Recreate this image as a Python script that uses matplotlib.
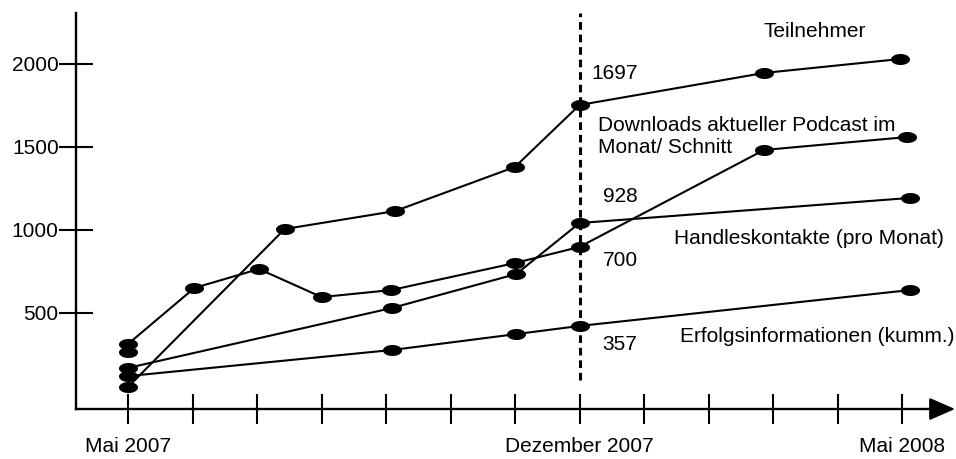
import numpy as np
import matplotlib
matplotlib.use("Agg")
import matplotlib.pyplot as plt

plt.rcParams['font.family'] = ['Liberation Sans', 'DejaVu Sans']

# === DATA (x = months after Mai 2007) ===
MONTH_TICKS = list(range(13))
MONTH_LABELS = ["Mai 2007", "", "", "", "", "", "", "Dezember 2007", "", "", "", "", "Mai 2008"]
Y_TICKS = [500, 1000, 1500, 2000]

TEILNEHMER_X = [0, 2.43, 4.14, 6.0, 7.0, 9.86, 11.97]
TEILNEHMER_Y = [54, 1006, 1114, 1380, 1753, 1946, 2030]

DOWNLOADS_X = [0, 1.03, 2.03, 3.0, 4.08, 6.0, 7.0, 9.86, 12.08]
DOWNLOADS_Y = [313, 651, 765, 596, 638, 801, 898, 1482, 1560]

HANDEL_X = [0, 4.09, 6.02, 7.0, 12.12]
HANDEL_Y = [169, 530, 735, 1042, 1193]

ERFOLG_X = [0, 4.09, 6.02, 7.0, 12.12]
ERFOLG_Y = [120, 277, 373, 422, 638]

EXTRA_X = [0]
EXTRA_Y = [265]

# === LAYOUT (pixel geometry of the reference) ===
W, H, DPI = 956, 459, 100
PX0, PX_MONTH = 128, 64.5       # pixel of month 0, pixels per month
PY0, PY_UNIT = 396, 83 / 500    # pixel of value 0, pixels per unit


def px2x(px):
    return (px - PX0) / PX_MONTH


def py2y(py):
    return (PY0 - py) / PY_UNIT


FS = 15
LW = 1.5

fig = plt.figure(figsize=(W / DPI, H / DPI), dpi=DPI)
ax = fig.add_axes([0, 0, 1, 1])
ax.set_xlim(px2x(0), px2x(W))
ax.set_ylim(py2y(H), py2y(0))
ax.patch.set_visible(False)

# ellipse marker
t = np.linspace(0, 2 * np.pi, 60)
ellipse = np.column_stack([np.cos(t), 0.58 * np.sin(t)])
mk = dict(marker=ellipse, markersize=13.7, color="black", lw=LW,
          markeredgewidth=0, solid_capstyle="round", zorder=3)

ax.plot(TEILNEHMER_X, TEILNEHMER_Y, **mk)
ax.plot(DOWNLOADS_X, DOWNLOADS_Y, **mk)
ax.plot(HANDEL_X, HANDEL_Y, **mk)
ax.plot(ERFOLG_X, ERFOLG_Y, **mk)
ax.plot(EXTRA_X, EXTRA_Y, **mk)

# dashed marker line at Dezember 2007
dez = MONTH_LABELS.index("Dezember 2007")
ax.plot([dez, dez], [py2y(380), py2y(13)], color="black", lw=2.2,
        ls=(0, (2.5, 1.6)), zorder=2)

# === axes ===
axis_x = px2x(76)
axis_y = py2y(409)
for side in ["top", "right"]:
    ax.spines[side].set_visible(False)
ax.spines["left"].set_position(("data", axis_x))
ax.spines["bottom"].set_position(("data", axis_y))
ax.spines["left"].set_bounds(axis_y, py2y(13))
ax.spines["bottom"].set_bounds(axis_x, px2x(935))
ax.spines["left"].set_linewidth(1.7)
ax.spines["bottom"].set_linewidth(1.7)
ax.annotate("", xy=(px2x(955), axis_y), xytext=(px2x(925), axis_y),
            arrowprops=dict(arrowstyle="-|>,head_length=1.6,head_width=0.7",
                            mutation_scale=10, color="black", lw=1.5,
                            shrinkA=0, shrinkB=0))

ax.set_xticks(MONTH_TICKS)
ax.set_xticklabels(MONTH_LABELS, fontsize=FS)
ax.set_yticks(Y_TICKS)
ax.set_yticklabels([str(v) for v in Y_TICKS], fontsize=FS)
ax.tick_params(axis="x", direction="inout", length=21, width=1.5, pad=10)
ax.tick_params(axis="y", direction="inout", length=25, width=1.5, pad=0)

# === annotations ===
ax.text(px2x(815), py2y(32), "Teilnehmer", fontsize=FS, ha="center", va="center")
ax.text(px2x(591), py2y(74), "1697", fontsize=FS, ha="left", va="center")
ax.text(px2x(598), py2y(136.5), "Downloads aktueller Podcast im\nMonat/ Schnitt",
        fontsize=FS, ha="left", va="center", linespacing=1.25)
ax.text(px2x(603), py2y(197), "928", fontsize=FS, ha="left", va="center")
ax.text(px2x(603), py2y(260), "700", fontsize=FS, ha="left", va="center")
ax.text(px2x(674), py2y(239), "Handleskontakte (pro Monat)", fontsize=FS, ha="left", va="center")
ax.text(px2x(602), py2y(345), "357", fontsize=FS, ha="left", va="center")
ax.text(px2x(680), py2y(337), "Erfolgsinformationen (kumm.)", fontsize=FS, ha="left", va="center")

fig.savefig("out.png", dpi=DPI)
